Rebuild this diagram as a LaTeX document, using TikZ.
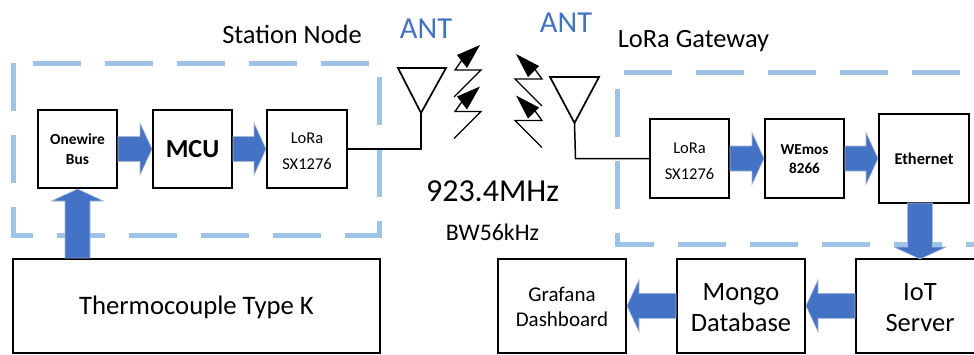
\documentclass[tikz,border=0pt]{standalone}
\usepackage{fontspec}
\setmainfont{Carlito}
\usetikzlibrary{calc}
\definecolor{dashblue}{HTML}{9DC3E6}
\definecolor{arrowblue}{HTML}{4472C4}
\definecolor{arrowedge}{HTML}{A9B8D2}
\tikzset{
  blockbox/.style={draw=black,line width=2pt,fill=white,inner sep=0pt,align=center},
  groupframe/.style={draw=dashblue,line width=5pt,dash pattern=on 48pt off 24pt},
  wire/.style={draw=black,line width=1.5pt},
  antenna/.style={draw=black,line width=1.7pt,line join=miter},
  bolt/.style={draw=black,line width=1.3pt,line join=miter},
  bolthead/.style={fill=black},
  blockarrow/.style={fill=arrowblue,draw=arrowedge,line width=0.6pt},
  lbl/.style={inner sep=0pt,text=black},
  antlbl/.style={inner sep=0pt,text=arrowblue,font=\fontsize{30.5}{33}\selectfont}
}
\newcommand{\dn}[2]{\raisebox{-#1pt}[\height][\depth]{#2}}
\newcommand{\blockarr}[2]{%
  \coordinate (H) at ($(#2)!12pt!(#1)$);
  \path[blockarrow] ($(#1)!12.5pt!90:(#2)$) -- ($(H)!12.5pt!90:(#2)$) -- ($(H)!26pt!90:(#2)$) -- (#2)
    -- ($(H)!26pt!-90:(#2)$) -- ($(H)!12.5pt!-90:(#2)$) -- ($(#1)!12.5pt!-90:(#2)$) -- cycle;
}
\begin{document}
\begin{tikzpicture}[x=1pt,y=-1pt]
\useasboundingbox (0,0) rectangle (974,354);
\clip (0,0) rectangle (974,354);
\fill[white] (0,0) rectangle (974,354);
% group frames
\draw[groupframe] (13,63) -- (13,235) -- (379,235) -- (379,63) -- (13,63);
\draw[groupframe] (1032,72) -- (617,72) -- (617,244) -- (1032,244);
% blocks
\node[blockbox,minimum width=79pt,minimum height=78pt,font=\bfseries\fontsize{15.4}{20}\selectfont] (one) at (77.5,149) {Onewire\\Bus};
\node[blockbox,minimum width=79pt,minimum height=78pt,font=\bfseries\fontsize{26}{28}\selectfont] (mcu) at (192.5,149) {MCU};
\node[blockbox,minimum width=80pt,minimum height=78pt,font=\fontsize{16.5}{26}\selectfont] (lora1) at (307,149) {\dn{2.5}{LoRa}\\\dn{2.5}{SX1276}};
\node[blockbox,minimum width=367pt,minimum height=93.5pt,font=\fontsize{26.7}{30}\selectfont] (thermo) at (196.5,305.8) {\dn{2}{Thermocouple Type K}};
\node[blockbox,minimum width=79pt,minimum height=79pt,font=\fontsize{16.5}{26}\selectfont] (lora2) at (689.5,158.5) {\dn{3}{LoRa}\\\dn{3}{SX1276}};
\node[blockbox,minimum width=79pt,minimum height=79pt,font=\bfseries\fontsize{15.2}{19}\selectfont] (wemos) at (804.5,158.5) {\dn{1}{WEmos}\\\dn{1}{8266}};
\node[blockbox,minimum width=90pt,minimum height=89pt,font=\bfseries\fontsize{16.4}{18}\selectfont] (eth) at (924,158.5) {Ethernet};
\node[blockbox,minimum width=128pt,minimum height=93.5pt,font=\fontsize{21}{25}\selectfont] (graf) at (562,305.8) {\dn{1}{Grafana}\\\dn{1}{Dashboard}};
\node[blockbox,minimum width=128pt,minimum height=93.5pt,font=\fontsize{26.5}{31}\selectfont] (mongo) at (741,305.8) {\dn{2}{Mongo}\\\dn{2}{Database}};
\node[blockbox,minimum width=128pt,minimum height=93.5pt,font=\fontsize{26.5}{31}\selectfont] (iot) at (920,305.8) {\dn{2}{IoT}\\\dn{2}{Server}};
% block arrows
\coordinate (thermoTop) at (thermo.north -| one.south);
\coordinate (ethOut) at (920,203);
\coordinate (iotIn) at (920,259);
\blockarr{one.east}{mcu.west}
\blockarr{mcu.east}{lora1.west}
\blockarr{thermoTop}{one.south}
\blockarr{lora2.east}{wemos.west}
\blockarr{wemos.east}{eth.west}
\blockarr{ethOut}{iotIn}
\blockarr{iot.west}{mongo.east}
\blockarr{mongo.west}{graf.east}
% antennas
\coordinate (antL) at (421,113);
\coordinate (antR) at (574.5,123);
\draw[antenna] (398,68) -- (446,68) -- (antL) -- cycle;
\draw[antenna] (550,77) -- (599,77) -- (antR) -- cycle;
\draw[wire] (antL) -- (421,149) -- (lora1.east);
\draw[wire] (antR) -- (575.5,158.5) -- (lora2.west);
% lightning bolts
\foreach \dy in {0,41.5}{
  \draw[bolt] (454,97+\dy) -- (481,70+\dy) -- (455,70+\dy) -- (462,60+\dy);
  \fill[bolthead] (480,45+\dy) -- (457,55+\dy) -- (467,68+\dy) -- cycle;
  \draw[bolt] (542,106+\dy) -- (515,79+\dy) -- (542,79+\dy) -- (534,68+\dy);
  \fill[bolthead] (516,54+\dy) -- (539,66+\dy) -- (528,77+\dy) -- cycle;
}
% labels
\node[antlbl] (ant1) at (426,29) {ANT};
\node[antlbl] (ant2) at (566,23) {ANT};
\node[lbl,font=\fontsize{26.4}{29}\selectfont] (station) at (292,34) {Station Node};
\node[lbl,font=\fontsize{26.4}{29}\selectfont] (gateway) at (693.5,41) {LoRa Gateway};
\node[lbl,font=\fontsize{32}{35}\selectfont] (freq) at (492.5,191) {923.4MHz};
\node[lbl,font=\fontsize{23.8}{26}\selectfont] (bw) at (492.5,232) {BW56kHz};
\end{tikzpicture}
\end{document}
